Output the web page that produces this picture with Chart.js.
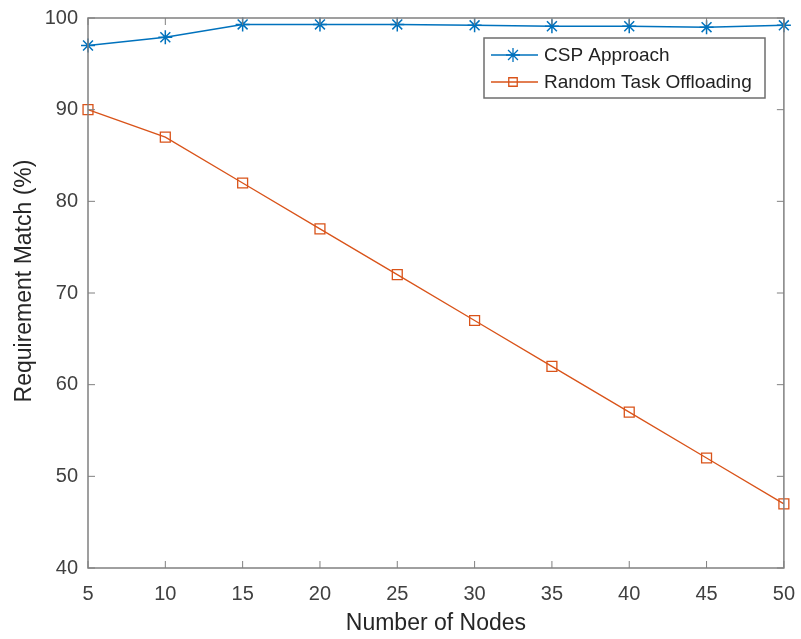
<!DOCTYPE html>
<html>
<head>
<meta charset="utf-8">
<script src="https://cdn.jsdelivr.net/npm/chart.js@4.4.0/dist/chart.umd.min.js"></script>
<style>
  html, body { margin: 0; padding: 0; background: #fff; }
  #wrap { width: 801px; height: 639px; position: relative; }
</style>
</head>
<body>
<div id="wrap"><canvas id="chart"></canvas></div>
<script>
// data
const nodes = [5, 10, 15, 20, 25, 30, 35, 40, 45, 50];
const cspApproach = [97, 97.9, 99.3, 99.3, 99.3, 99.2, 99.1, 99.1, 99.0, 99.2];
const randomOffloading = [90, 87, 82, 77, 72, 67, 62, 57, 52, 47];
const yTicks = [40, 50, 60, 70, 80, 90, 100];
const yTitle = 'Requirement Match (%)';

const blue = '#0072BD';
const orange = '#D95319';
const axisGrey = '#808080';
const textGrey = '#404040';
const fontFamily = '"Liberation Sans", Arial, sans-serif';

// MATLAB style box with inward ticks, y title and the legend
const matlabFrame = {
    id: 'matlabFrame',
    afterDraw(chart) {
        const ctx = chart.ctx;
        const a = chart.chartArea;
        const xs = chart.scales.x, ys = chart.scales.y;
        ctx.save();
        ctx.strokeStyle = axisGrey;
        ctx.lineWidth = 1.5;
        ctx.strokeRect(a.left, a.top, a.right - a.left, a.bottom - a.top);
        ctx.lineWidth = 1;
        ctx.beginPath();
        nodes.forEach(v => {
            const px = xs.getPixelForValue(v);
            ctx.moveTo(px, a.bottom); ctx.lineTo(px, a.bottom - 7);
            ctx.moveTo(px, a.top); ctx.lineTo(px, a.top + 7);
        });
        yTicks.forEach(v => {
            const py = ys.getPixelForValue(v);
            ctx.moveTo(a.left, py); ctx.lineTo(a.left + 7, py);
            ctx.moveTo(a.right, py); ctx.lineTo(a.right - 7, py);
        });
        ctx.stroke();

        // y axis title, sits a little above the centre like the original
        ctx.save();
        ctx.translate(25, 281);
        ctx.rotate(-Math.PI / 2);
        ctx.font = '23px ' + fontFamily;
        ctx.fillStyle = '#262626';
        ctx.textAlign = 'center';
        ctx.textBaseline = 'middle';
        ctx.fillText(yTitle, 0, 0);
        ctx.restore();

        // legend
        const lx = 484, ly = 38, lw = 281, lh = 60;
        ctx.fillStyle = '#fff';
        ctx.fillRect(lx, ly, lw, lh);
        ctx.strokeStyle = '#6e6e6e';
        ctx.lineWidth = 1.5;
        ctx.strokeRect(lx, ly, lw, lh);
        const items = [
            { label: 'CSP Approach', color: blue, style: 'star', r: 7 },
            { label: 'Random Task Offloading', color: orange, style: 'rect', r: 6 }
        ];
        ctx.font = '19px ' + fontFamily;
        ctx.textBaseline = 'middle';
        items.forEach((it, i) => {
            const y = ly + 17 + i * 27;
            ctx.strokeStyle = it.color;
            ctx.fillStyle = 'rgba(0,0,0,0)';
            ctx.lineWidth = 1.3;
            ctx.beginPath();
            ctx.moveTo(lx + 7, y); ctx.lineTo(lx + 54, y);
            ctx.stroke();
            Chart.helpers.drawPoint(ctx, {
                pointStyle: it.style, radius: it.r, borderWidth: 1.3, rotation: 0
            }, lx + 29, y);
            ctx.fillStyle = '#222';
            ctx.fillText(it.label, lx + 60, y + 1);
        });
        ctx.restore();
    }
};

new Chart(document.getElementById('chart'), {
    type: 'line',
    data: {
        datasets: [{
            label: 'CSP Approach',
            data: nodes.map((n, i) => ({ x: n, y: cspApproach[i] })),
            borderColor: blue,
            backgroundColor: 'transparent',
            borderWidth: 1.5,
            pointStyle: 'star',
            pointRadius: 7,
            pointBorderWidth: 1.5,
            pointBorderColor: blue,
            tension: 0,
            clip: false
        }, {
            label: 'Random Task Offloading',
            data: nodes.map((n, i) => ({ x: n, y: randomOffloading[i] })),
            borderColor: orange,
            backgroundColor: 'transparent',
            borderWidth: 1.3,
            pointStyle: 'rect',
            pointRadius: 7,
            pointBorderWidth: 1.3,
            pointBorderColor: orange,
            pointBackgroundColor: 'transparent',
            tension: 0,
            clip: false
        }]
    },
    options: {
        responsive: true,
        maintainAspectRatio: false,
        animation: false,
        layout: { padding: { top: 18, right: 5, left: 40, bottom: 0 } },
        plugins: {
            legend: { display: false },
            tooltip: { enabled: false }
        },
        scales: {
            x: {
                type: 'linear',
                min: 5, max: 50,
                afterBuildTicks: s => { s.ticks = nodes.map(v => ({ value: v })); },
                afterFit: s => { s.height = 71; },
                grid: { display: false },
                border: { display: false },
                ticks: {
                    color: textGrey,
                    padding: 6,
                    maxRotation: 0,
                    font: { family: fontFamily, size: 20 }
                },
                title: {
                    display: true,
                    text: 'Number of Nodes',
                    color: '#262626',
                    padding: { top: 0, bottom: 2 },
                    font: { family: fontFamily, size: 23 }
                }
            },
            y: {
                min: 40, max: 100,
                afterBuildTicks: s => { s.ticks = yTicks.map(v => ({ value: v })); },
                afterFit: s => { s.width = 48; },
                grid: { display: false },
                border: { display: false },
                ticks: {
                    color: textGrey,
                    padding: 2,
                    font: { family: fontFamily, size: 20 }
                },
                title: { display: false }
            }
        }
    },
    plugins: [matlabFrame]
});
</script>
</body>
</html>
